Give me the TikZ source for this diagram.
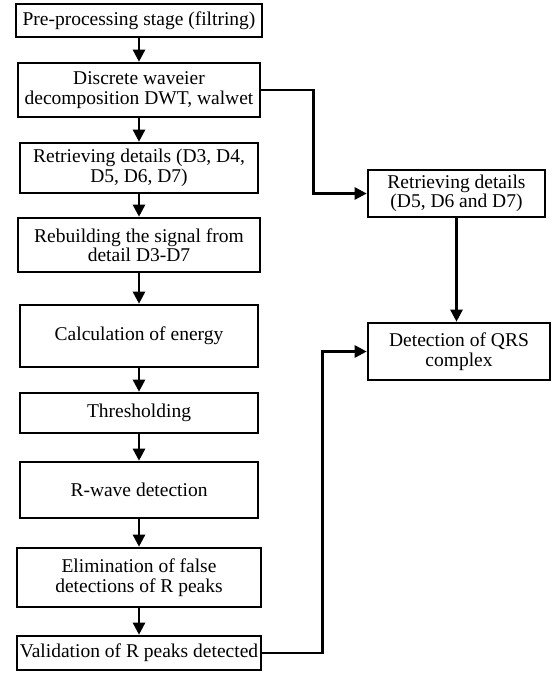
\documentclass[tikz,border=0pt]{standalone}
\usepackage{fontspec}
\setmainfont{Liberation Serif}
\usepackage{tikz}
\usetikzlibrary{shapes.geometric, arrows.meta}
\tikzstyle{stage} = [draw, line width=2.6pt, align=center, inner sep=1pt, font=\fontsize{19.5}{19.5}\selectfont]
\tikzstyle{arrow} = [line width=2.6pt,-{Triangle[length=12pt,width=12pt]}]

\begin{document}
\begin{tikzpicture}[x=1pt,y=-1pt]
\useasboundingbox (0,0) rectangle (553,673);

\node[stage, minimum width=246, minimum height=33] (prep) at (139,20.5) {Pre-processing stage (filtring)};
\node[stage, minimum width=242, minimum height=54] (dwt) at (139,90) {Discrete waveier\\decomposition DWT, walwet};
\node[stage, minimum width=238, minimum height=50] (det) at (139,168) {Retrieving details (D3, D4,\\D5, D6, D7)};
\node[stage, minimum width=242, minimum height=54] (rebuild) at (139,245) {Rebuilding the signal from\\detail D3-D7};
\node[stage, minimum width=238, minimum height=62] (energy) at (139,336) {Calculation of energy};
\node[stage, minimum width=238, minimum height=40] (thresh) at (139,413) {Thresholding};
\node[stage, minimum width=238, minimum height=56] (rwave) at (139,490) {R-wave detection};
\node[stage, minimum width=244, minimum height=59] (elim) at (139,577.5) {Elimination of false\\detections of R peaks};
\node[stage, minimum width=244, minimum height=34] (valid) at (139,653) {Validation of R peaks detected};

\node[stage, minimum width=177, minimum height=47] (det2) at (456.5,193.5) {Retrieving details\\(D5, D6 and D7)};
\node[stage, minimum width=182, minimum height=57] (qrs) at (459,351.5) {Detection of QRS\\complex};

% main column
\draw[arrow] (prep) -- (dwt);
\draw[arrow] (dwt) -- (det);
\draw[arrow] (det) -- (rebuild);
\draw[arrow] (rebuild) -- (energy);
\draw[arrow] (energy) -- (thresh);
\draw[arrow] (thresh) -- (rwave);
\draw[arrow] (rwave) -- (elim);
\draw[arrow] (elim) -- (valid);

% side branch
\draw[arrow] (dwt.east) -- ++(52,0) |- (det2.west);
\draw[arrow] (det2.south) -- (det2.south |- qrs.north);
\draw[arrow] (valid.east) -- ++(60,0) |- (qrs.west);

\end{tikzpicture}
\end{document}
